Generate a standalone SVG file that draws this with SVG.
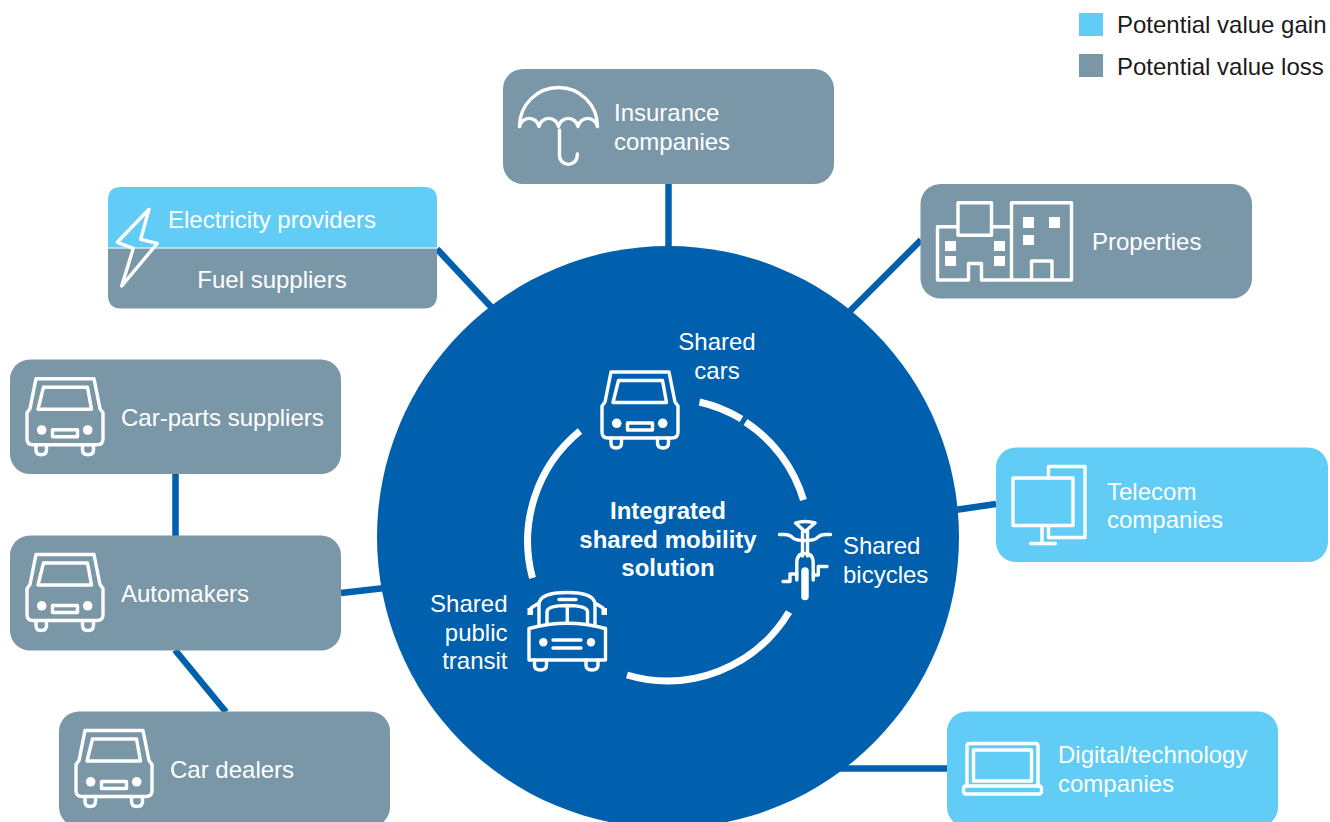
<svg xmlns="http://www.w3.org/2000/svg" xmlns:xlink="http://www.w3.org/1999/xlink" width="1330" height="822" viewBox="0 0 1330 822">
<style>
text{font-family:"Liberation Sans",Arial,sans-serif;font-size:24px;fill:#fff}
.k{fill:#1a1a1a}
.b{font-weight:bold}
.m{text-anchor:middle}
.e{text-anchor:end}
.gain{fill:#61ccf5}
.loss{fill:#7a97a8}
.box{stroke:none}
.ic{fill:none;stroke:#fff;stroke-width:3.400;stroke-linejoin:round;stroke-linecap:round}
.w{fill:#fff;stroke:none}
.c{fill:none;stroke:#0060ae;stroke-width:6.500}
.r{fill:none;stroke:#fff;stroke-width:7}
</style>
<defs>
<g id="car">
<path class="ic" d="M611,372H669L675,402L678,406V432Q678,438 672,438H608Q602,438 602,432V406L605,402Z"/>
<path class="ic" d="M618.500,380.500H662.500L666.500,402.500H613Z"/>
<circle class="w" cx="616.700" cy="423.300" r="4.800"/>
<circle class="w" cx="662.700" cy="423.300" r="4.800"/>
<rect class="ic" x="627.500" y="423" width="25" height="7"/>
<path class="ic" d="M611,438V443Q611,448 616,448Q621.500,448 621.500,443V438M657.500,438V443Q657.500,448 663,448Q668.500,448 668.500,443V438"/>
</g>
</defs>

<g id="connectors">
<path class="c" d="M668.500,184V250"/>
<path class="c" d="M437,249L493,309"/>
<path class="c" d="M921,240L849,312"/>
<path class="c" d="M996,504L955,510"/>
<path class="c" d="M830,768.500H947"/>
<path class="c" d="M175.500,474V536"/>
<path class="c" d="M341,593L385,588"/>
<path class="c" d="M175,650L226,712"/>
</g>

<g id="hub">
<circle cx="668" cy="537" r="291" fill="#0060ae"/>
<path class="r" d="M699.500,402A142,142 0 0 1 741.500,419"/>
<path class="r" d="M745.500,422A142,142 0 0 1 803.500,500"/>
<path class="r" d="M789,612A142,142 0 0 1 627,675"/>
<path class="r" d="M532.500,578A142,142 0 0 1 580,431"/>
<text class="b m" x="668" y="519">Integrated</text>
<text class="b m" x="668" y="548">shared mobility</text>
<text class="b m" x="668" y="576">solution</text>
</g>

<g id="shared-cars">
<use xlink:href="#car" href="#car"/>
<text class="m" x="717" y="350">Shared</text>
<text class="m" x="717" y="379">cars</text>
</g>

<g id="shared-bicycles">
<path class="ic" d="M795.500,523Q805,520 815,523L805,531.500Z"/>
<path class="ic" d="M779.500,534.500H784Q790,534.500 793,538Q796,540.500 805,540.500Q814,540.500 817,538Q820,534.500 826,534.500H830.500"/>
<path class="ic" d="M802.500,531V556M807.500,531V556"/>
<path class="ic" d="M796.800,580V563Q796.800,553.500 805,553.500Q813.200,553.500 813.200,563V580"/>
<path d="M805,571V596.500" fill="none" stroke="#fff" stroke-width="7.500" stroke-linecap="round"/>
<path class="ic" d="M783,581.500H790V574H796.800M827,566.500H818.300V575H813.200"/>
<text x="843" y="554">Shared</text>
<text x="843" y="583">bicycles</text>
</g>

<g id="shared-public-transit">
<path class="ic" d="M529,628.500Q567,618 605.500,628.500V660H529Z"/>
<path class="ic" d="M539,625V604Q540,592.500 567,592.500Q594,592.500 595,604V625"/>
<path class="ic" d="M547,623V612Q547,605.500 567,605.500Q587.500,605.500 587.500,612V623M567.300,606V622"/>
<path class="ic" d="M559,599.500H576"/>
<path class="ic" d="M539,603L531,608M595,603L603,608"/>
<rect class="w" x="527.500" y="608" width="5.500" height="7"/>
<rect class="w" x="601.500" y="608" width="5.500" height="7"/>
<circle class="w" cx="543.300" cy="642.300" r="4.200"/>
<circle class="w" cx="591" cy="642.300" r="4.200"/>
<path class="ic" d="M553,640H581M553,648H581"/>
<path class="ic" d="M534.500,660V665Q534.500,670 540.500,670Q546.500,670 546.500,665V660M586,660V665Q586,670 592,670Q598,670 598,665V660"/>
<text class="e" x="507.500" y="612">Shared</text>
<text class="e" x="507.500" y="641">public</text>
<text class="e" x="507.500" y="669">transit</text>
</g>

<g id="insurance-companies">
<rect class="loss box" x="503" y="69" width="331" height="115" rx="20"/>
<path class="ic" d="M519.500,126.500A39,39 0 0 1 597.500,126.500"/>
<path class="ic" d="M519.500,126.500A10,10.500 0 0 1 539,126.500A10,10.500 0 0 1 558.500,126.500A10,10.500 0 0 1 578,126.500A10,10.500 0 0 1 597.500,126.500"/>
<path class="ic" d="M559.500,130V155.500A8.800,8.800 0 0 0 577.300,155.500V154"/>
<text x="614" y="121">Insurance</text>
<text x="614" y="150">companies</text>
</g>

<g id="electricity-fuel">
<path class="gain" d="M121,187H424Q437,187 437,200V247.500H108V200Q108,187 121,187Z"/>
<path class="loss" d="M108,248.500H437V295Q437,308.500 424,308.500H121Q108,308.500 108,295Z"/>
<path d="M108,248H437" stroke="#b5dcec" stroke-width="1"/>
<path class="ic" d="M149,209.300L140.700,239.300L157.300,243.300L121.700,286L133.300,248.300L117.300,242.300Z"/>
<text class="m" x="272" y="228">Electricity providers</text>
<text class="m" x="272" y="288">Fuel suppliers</text>
</g>

<g id="properties">
<rect class="loss box" x="920.500" y="184" width="331.500" height="114.500" rx="20"/>
<path class="ic" d="M957.500,226.700H937.500V280H968.500V263.500H981.500V280H1071.500V202.800H1011.500V280M991.500,226.700H1011.500M1031.500,280V261H1052V280"/>
<rect class="ic" x="958" y="202.800" width="33.500" height="32.500"/>
<rect class="w" x="945" y="241" width="11" height="10"/>
<rect class="w" x="994" y="241" width="11" height="10"/>
<rect class="w" x="945" y="256" width="11" height="10"/>
<rect class="w" x="994" y="256" width="11" height="10"/>
<rect class="w" x="1023" y="217" width="11" height="11"/>
<rect class="w" x="1049" y="217" width="11" height="11"/>
<rect class="w" x="1023" y="235" width="11" height="10"/>
<text x="1092" y="250">Properties</text>
</g>

<g id="telecom-companies">
<rect class="gain box" x="996" y="447.500" width="332" height="114.500" rx="20"/>
<rect class="ic" x="1013" y="478" width="60" height="47.500"/>
<path class="ic" d="M1048.500,478V466.500H1085V537.500H1048.500V525.500"/>
<path class="ic" d="M1042,525.500V543M1030.500,543.500H1055.500"/>
<text x="1107" y="500">Telecom</text>
<text x="1107" y="528">companies</text>
</g>

<g id="digital-technology-companies">
<rect class="gain box" x="947" y="711.500" width="331" height="115.500" rx="20"/>
<path class="ic" d="M967,786V746Q967,743.500 970,743.500H1035Q1038,743.500 1038,746V786"/>
<rect class="ic" x="973.500" y="750" width="58" height="31"/>
<path class="ic" d="M963.500,789Q963.500,786 966,786H1039Q1041.500,786 1041.500,789V791Q1041.500,794 1039,794H966Q963.500,794 963.500,791Z"/>
<text x="1058" y="763">Digital/technology</text>
<text x="1058" y="792">companies</text>
</g>

<g id="car-parts-suppliers">
<rect class="loss box" x="10" y="359.500" width="331" height="114.500" rx="20"/>
<use xlink:href="#car" href="#car" x="-575" y="6.700"/>
<text x="121" y="426">Car-parts suppliers</text>
</g>

<g id="automakers">
<rect class="loss box" x="10" y="535.500" width="331" height="115" rx="20"/>
<use xlink:href="#car" href="#car" x="-575" y="182.500"/>
<text x="121" y="602">Automakers</text>
</g>

<g id="car-dealers">
<rect class="loss box" x="59" y="711.500" width="331" height="115.500" rx="20"/>
<use xlink:href="#car" href="#car" x="-526" y="358.500"/>
<text x="170" y="778">Car dealers</text>
</g>

<g id="legend">
<rect class="gain" x="1079" y="13" width="24" height="23"/>
<rect class="loss" x="1079" y="54" width="24" height="23"/>
<text class="k" x="1117" y="33">Potential value gain</text>
<text class="k" x="1117" y="75">Potential value loss</text>
</g>
</svg>
